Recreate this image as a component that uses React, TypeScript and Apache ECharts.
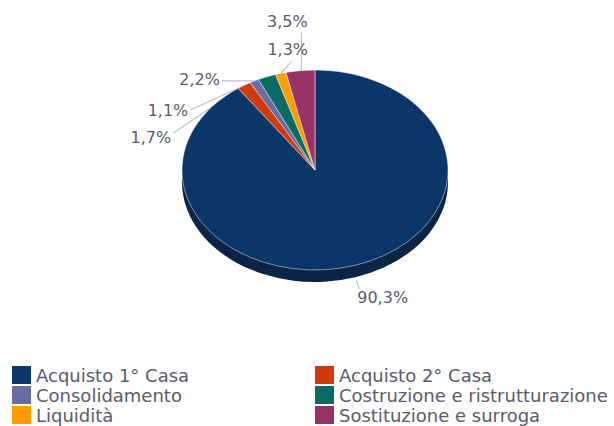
import React, { useEffect, useRef } from 'react';
import * as echarts from 'echarts';

// ---- data ----
const categories = [
  'Acquisto 1° Casa',
  'Acquisto 2° Casa',
  'Consolidamento',
  'Costruzione e ristrutturazione',
  'Liquidità',
  'Sostituzione e surroga',
];
const shares = [90.3, 1.7, 1.1, 2.2, 1.3, 3.5];
const legendColumnA = [categories[0], categories[2], categories[4]];
const legendColumnB = [categories[1], categories[3], categories[5]];

// ---- style ----
const faceColors = ['#0a3668', '#cf3a0c', '#6b6ba1', '#0a6a64', '#ff9d00', '#993366'];
const sideColors = ['#0b2447', '#8a2606', '#45456e', '#054642', '#b36e00', '#662244'];
const W = 614;
const H = 426;
const CX = 315;
const CY = 170;
const RX = 133;
const RY = 100;
const DEPTH = 12;
const INNER_R = 90;
const FONT = "'DejaVu Sans', Verdana, sans-serif";
const TEXT = '#595c6b';
const CONNECTOR = '#b8c2cf';

const fmt = (v: number) => v.toFixed(1).replace('.', ',') + '%';

// label placement relative to the slice's rim point (text offset, alignment, connector bends)
const labelPlacement: { text: number[]; align: string; line: number[][] }[] = [
  { text: [2, 20], align: 'left', line: [[1, 3], [4, 12], [4, 12]] },
  { text: [-73, 52], align: 'right', line: [[0, 0], [-71, 48], [-71, 48]] },
  { text: [-66, 29], align: 'right', line: [[0, 0], [-64, 29], [-64, 29]] },
  { text: [-47, 3], align: 'right', line: [[0, 0], [-10, 4], [-45, 4]] },
  { text: [7, -24], align: 'center', line: [[0, 0], [11, -12], [11, -12]] },
  { text: [-13, -49], align: 'center', line: [[1, 0], [1, -38], [1, -38]] },
];

export default function App() {
  const baseRef = useRef<HTMLDivElement>(null);
  const faceRef = useRef<HTMLDivElement>(null);

  useEffect(() => {
    const base = echarts.init(baseRef.current!, null, { renderer: 'svg' });
    const face = echarts.init(faceRef.current!, null, { renderer: 'svg' });
    const pieData = categories.map((name, i) => ({ name, value: shares[i] }));
    const total = shares.reduce((a, b) => a + b, 0);

    const legendBase: any = {
      type: 'plain',
      orient: 'vertical',
      top: 365,
      itemWidth: 19,
      itemHeight: 18,
      itemGap: 0,
      padding: 0,
      icon: 'rect',
      selectedMode: false,
      textStyle: { fontFamily: FONT, fontSize: 18, color: TEXT, lineHeight: 20 },
    };

    base.setOption({
      animation: false,
      backgroundColor: '#ffffff',
      color: faceColors,
      legend: [
        { ...legendBase, left: 12, data: legendColumnA },
        { ...legendBase, left: 315, data: legendColumnB },
      ],
      series: [
        {
          type: 'pie',
          center: [CX, CY],
          radius: INNER_R,
          startAngle: 90,
          clockwise: true,
          silent: true,
          data: pieData,
          label: {
            show: true,
            position: 'outside',
            formatter: (p: any) => fmt(p.value),
            fontFamily: FONT,
            fontSize: 16,
            color: TEXT,
          },
          labelLine: { show: true, smooth: false, lineStyle: { color: CONNECTOR, width: 1.2 } },
          labelLayout: (p: any) => {
            const i = p.dataIndex;
            let s: number;
            let c: number;
            const pts = p.labelLinePoints;
            if (pts && pts.length) {
              s = (pts[0][0] - CX) / INNER_R;
              c = (CY - pts[0][1]) / INNER_R;
            } else {
              let before = 0;
              for (let k = 0; k < i; k++) before += shares[k];
              const mid = ((before + shares[i] / 2) / total) * Math.PI * 2;
              s = Math.sin(mid);
              c = Math.cos(mid);
            }
            const ax = CX + RX * s;
            const ay = CY - RY * c + (c < 0 ? DEPTH : 0);
            const lp = labelPlacement[i];
            return {
              x: ax + lp.text[0],
              y: ay + lp.text[1],
              align: lp.align,
              verticalAlign: 'middle',
              labelLinePoints: lp.line.map(([dx, dy]) => [ax + dx, ay + dy]),
            };
          },
        },
      ],
    });

    const scale = RY / RX;
    face.setOption({
      animation: false,
      backgroundColor: 'transparent',
      series: [
        {
          type: 'pie',
          center: [CX, CY + DEPTH / scale],
          radius: RX,
          startAngle: 90,
          clockwise: true,
          silent: true,
          label: { show: false },
          labelLine: { show: false },
          data: pieData.map((d, i) => ({ ...d, itemStyle: { color: sideColors[i] } })),
        },
        {
          type: 'pie',
          center: [CX, CY],
          radius: RX,
          startAngle: 90,
          clockwise: true,
          silent: true,
          label: { show: false },
          labelLine: { show: false },
          itemStyle: { borderColor: 'rgba(255,255,255,0.55)', borderWidth: 1 },
          data: pieData.map((d, i) => ({ ...d, itemStyle: { color: faceColors[i] } })),
        },
      ],
    });

    return () => {
      face.dispose();
      base.dispose();
    };
  }, []);

  const scale = RY / RX;
  return (
    <div style={{ position: 'fixed', left: 0, top: 0, width: W, height: H, background: '#fff' }}>
      <div ref={baseRef} style={{ position: 'absolute', left: 0, top: 0, width: W, height: H }} />
      <div
        ref={faceRef}
        style={{
          position: 'absolute',
          left: 0,
          top: 0,
          width: W,
          height: H,
          transform: `scaleY(${scale})`,
          transformOrigin: `${CX}px ${CY}px`,
          pointerEvents: 'none',
        }}
      />
    </div>
  );
}
